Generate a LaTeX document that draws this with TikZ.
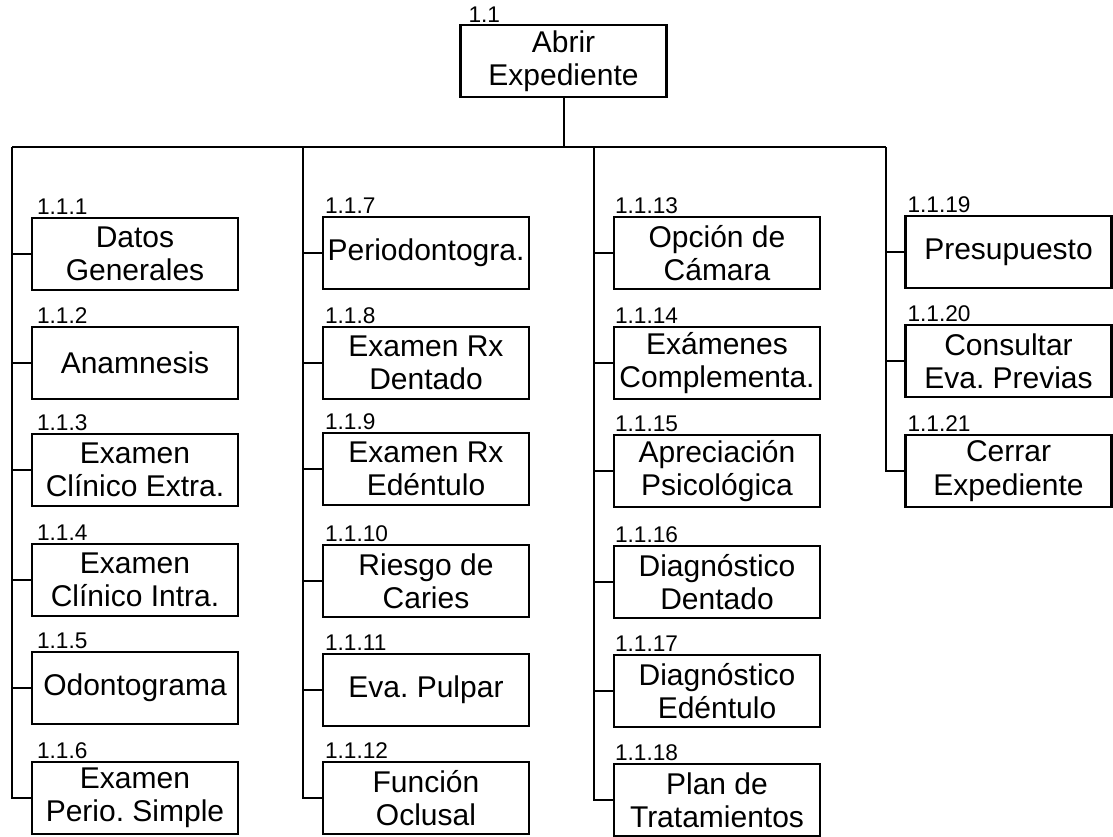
\documentclass[tikz,border=0pt]{standalone}
\usepackage{fontspec}
\setmainfont{Liberation Sans}
\frenchspacing
\begin{document}
\begin{tikzpicture}[x=0.75pt,y=0.75pt,yscale=-1,xscale=1,
        wbsbox/.style={draw, line width=1.8pt, minimum width=154.5pt, minimum height=54pt, align=center, inner sep=1pt, font=\fontsize{22.5}{25}\selectfont},
        wbsnum/.style={anchor=base west, inner sep=0pt, font=\fontsize{17}{19}\selectfont},
        wbsline/.style={line width=1.5pt}]
        \useasboundingbox (0,0) rectangle (1113,836);
        \node[wbsbox] (abrir) at (563.5,61) {Abrir\\Expediente};
        \node[wbsnum] (n11) at ([shift={(9,-1)}]abrir.north west) {1.1};
        \coordinate (c1) at (12,147);
        \coordinate (c2) at (303,147);
        \coordinate (c3) at (594,147);
        \coordinate (c4) at (886,147);
        \node[wbsbox] (datos) at (135,254) {Datos\\Generales};
        \node[wbsbox] (anamnesis) at (135,363) {Anamnesis};
        \node[wbsbox] (extra) at (135,470) {Examen\\Clínico Extra.};
        \node[wbsbox] (intra) at (135,580) {Examen\\Clínico Intra.};
        \node[wbsbox] (odonto) at (135,688) {Odontograma};
        \node[wbsbox] (perio) at (135,798) {Examen\\Perio. Simple};
        \node[wbsbox] (periodonto) at (426,253) {Periodontogra.};
        \node[wbsbox] (rxdent) at (426,363) {Examen Rx\\Dentado};
        \node[wbsbox] (rxedent) at (426,469) {Examen Rx\\Edéntulo};
        \node[wbsbox] (caries) at (426,581) {Riesgo de\\Caries};
        \node[wbsbox] (pulpar) at (426,690) {Eva. Pulpar};
        \node[wbsbox] (oclusal) at (426,798) {Función\\Oclusal};
        \node[wbsbox] (camara) at (717,253) {Opción de\\Cámara};
        \node[wbsbox] (complem) at (717,363) {Exámenes\\Complementa.};
        \node[wbsbox] (psico) at (717,471) {Apreciación\\Psicológica};
        \node[wbsbox] (diagdent) at (717,582) {Diagnóstico\\Dentado};
        \node[wbsbox] (diagedent) at (717,691) {Diagnóstico\\Edéntulo};
        \node[wbsbox] (plan) at (717,800) {Plan de\\Tratamientos};
        \node[wbsbox] (presup) at (1008.5,252) {Presupuesto};
        \node[wbsbox] (consultar) at (1008.5,361) {Consultar\\Eva. Previas};
        \node[wbsbox] (cerrar) at (1008.5,471) {Cerrar\\Expediente};
        \node[wbsnum] (n111) at ([shift={(6,-2)}]datos.north west) {1.1.1};
        \node[wbsnum] (n112) at ([shift={(6,-2)}]anamnesis.north west) {1.1.2};
        \node[wbsnum] (n113) at ([shift={(6,-2)}]extra.north west) {1.1.3};
        \node[wbsnum] (n114) at ([shift={(6,-2)}]intra.north west) {1.1.4};
        \node[wbsnum] (n115) at ([shift={(6,-2)}]odonto.north west) {1.1.5};
        \node[wbsnum] (n116) at ([shift={(6,-2)}]perio.north west) {1.1.6};
        \node[wbsnum] (n117) at ([shift={(3,-2)}]periodonto.north west) {1.1.7};
        \node[wbsnum] (n118) at ([shift={(3,-2)}]rxdent.north west) {1.1.8};
        \node[wbsnum] (n119) at ([shift={(3,-2)}]rxedent.north west) {1.1.9};
        \node[wbsnum] (n1110) at ([shift={(3,-2)}]caries.north west) {1.1.10};
        \node[wbsnum] (n1111) at ([shift={(3,-2)}]pulpar.north west) {1.1.11};
        \node[wbsnum] (n1112) at ([shift={(3,-2)}]oclusal.north west) {1.1.12};
        \node[wbsnum] (n1113) at ([shift={(2,-2)}]camara.north west) {1.1.13};
        \node[wbsnum] (n1114) at ([shift={(2,-2)}]complem.north west) {1.1.14};
        \node[wbsnum] (n1115) at ([shift={(2,-2)}]psico.north west) {1.1.15};
        \node[wbsnum] (n1116) at ([shift={(2,-2)}]diagdent.north west) {1.1.16};
        \node[wbsnum] (n1117) at ([shift={(2,-2)}]diagedent.north west) {1.1.17};
        \node[wbsnum] (n1118) at ([shift={(2,-2)}]plan.north west) {1.1.18};
        \node[wbsnum] (n1119) at ([shift={(3,-2)}]presup.north west) {1.1.19};
        \node[wbsnum] (n1120) at ([shift={(3,-2)}]consultar.north west) {1.1.20};
        \node[wbsnum] (n1121) at ([shift={(3,-2)}]cerrar.north west) {1.1.21};
        \draw[wbsline] (abrir.south) -- (abrir.south |- c1);
        \draw[wbsline] (c1) -- (c4);
        \draw[wbsline] (c1) |- (datos.west) (c1) |- (anamnesis.west) (c1) |- (extra.west) (c1) |- (intra.west) (c1) |- (odonto.west) (c1) |- (perio.west);
        \draw[wbsline] (c2) |- (periodonto.west) (c2) |- (rxdent.west) (c2) |- (rxedent.west) (c2) |- (caries.west) (c2) |- (pulpar.west) (c2) |- (oclusal.west);
        \draw[wbsline] (c3) |- (camara.west) (c3) |- (complem.west) (c3) |- (psico.west) (c3) |- (diagdent.west) (c3) |- (diagedent.west) (c3) |- (plan.west);
        \draw[wbsline] (c4) |- (presup.west) (c4) |- (consultar.west) (c4) |- (cerrar.west);
\end{tikzpicture}
\end{document}
